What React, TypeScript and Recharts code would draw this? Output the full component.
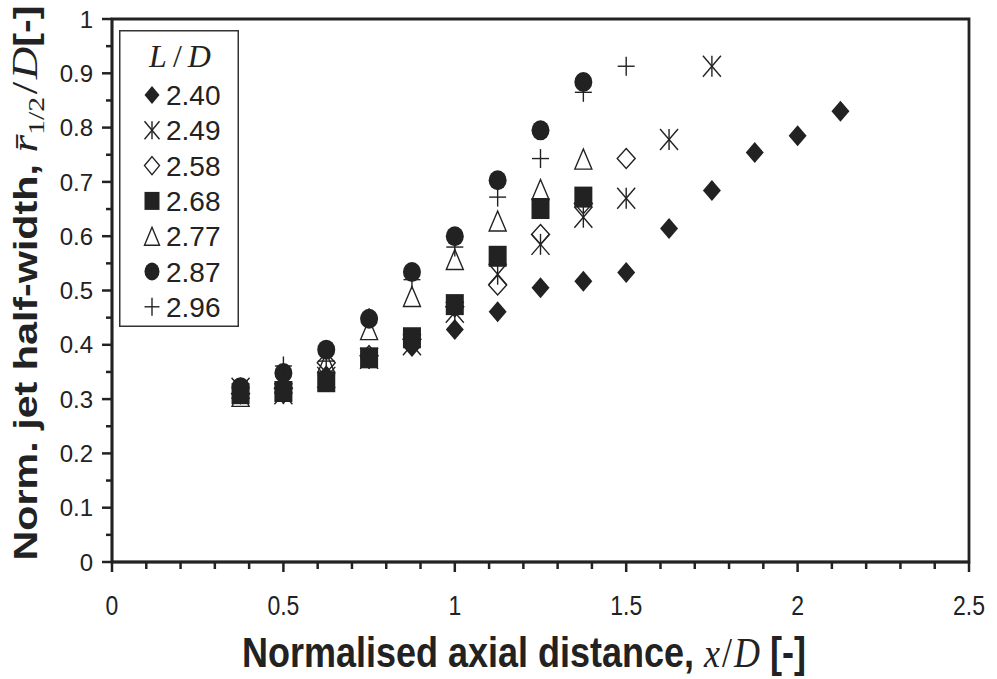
import React from 'react';
import { ScatterChart, Scatter, XAxis, YAxis, ReferenceArea, Legend } from 'recharts';

// axial positions x/D where the profiles were measured
const xPositions = [0.375, 0.5, 0.625, 0.75, 0.875, 1.0, 1.125, 1.25, 1.375, 1.5, 1.625, 1.75, 1.875, 2.0, 2.125];

// normalised half-width per L/D
const ld240 = [0.32, 0.31, 0.343, 0.375, 0.397, 0.428, 0.461, 0.505, 0.517, 0.533, 0.614, 0.684, 0.754, 0.785, 0.83];
const ld249 = [0.32, 0.31, 0.34, 0.375, 0.4, 0.46, 0.53, 0.585, 0.635, 0.67, 0.778, 0.913];
const ld258 = [0.31, 0.32, 0.367, 0.38, 0.41, 0.47, 0.51, 0.603, 0.66, 0.743];
const ld268 = [0.31, 0.314, 0.332, 0.376, 0.413, 0.474, 0.563, 0.651, 0.672];
const ld277 = [0.305, 0.33, 0.367, 0.428, 0.489, 0.557, 0.628, 0.686, 0.742];
const ld287 = [0.322, 0.348, 0.391, 0.448, 0.534, 0.6, 0.703, 0.795, 0.884];
const ld296 = [0.32, 0.361, 0.37, 0.45, 0.52, 0.58, 0.672, 0.743, 0.865, 0.913];

const seriesLabels = ['2.40', '2.49', '2.58', '2.68', '2.77', '2.87', '2.96'];

const xTicks = [0, 0.1, 0.2, 0.3, 0.4, 0.5, 0.6, 0.7, 0.8, 0.9, 1, 1.1, 1.2, 1.3, 1.4, 1.5, 1.6, 1.7, 1.8, 1.9, 2, 2.1, 2.2, 2.3, 2.4, 2.5];
const xMajor = [0, 0.5, 1, 1.5, 2, 2.5];
const xMajorLabels = ['0', '0.5', '1', '1.5', '2', '2.5'];
const yTicks = [0, 0.05, 0.1, 0.15, 0.2, 0.25, 0.3, 0.35, 0.4, 0.45, 0.5, 0.55, 0.6, 0.65, 0.7, 0.75, 0.8, 0.85, 0.9, 0.95, 1];
const yMajor = [0, 0.1, 0.2, 0.3, 0.4, 0.5, 0.6, 0.7, 0.8, 0.9, 1];
const yMajorLabels = ['0', '0.1', '0.2', '0.3', '0.4', '0.5', '0.6', '0.7', '0.8', '0.9', '1'];

const INK = '#222';
const SANS = 'Arial, "Liberation Sans", Helvetica, sans-serif';
const SERIF = '"Liberation Serif", "Times New Roman", serif';

const toPoints = (vals: number[]) => vals.map((y, i) => ({ x: xPositions[i], y }));

// ---- marker shapes (w = half width, h = half height) ----
type Mk = { cx: number; cy: number; w?: number; h?: number };

const FilledDiamond = ({ cx, cy, w = 9, h = 10.5 }: Mk) => (
  <polygon points={`${cx},${cy - h} ${cx + w},${cy} ${cx},${cy + h} ${cx - w},${cy}`} fill={INK} />
);
const Asterisk = ({ cx, cy, w = 9, h = 10.5 }: Mk) => (
  <g stroke={INK} strokeWidth={1.4}>
    <line x1={cx} y1={cy - h} x2={cx} y2={cy + h} />
    <line x1={cx - w} y1={cy - h} x2={cx + w} y2={cy + h} />
    <line x1={cx + w} y1={cy - h} x2={cx - w} y2={cy + h} />
  </g>
);
const OpenDiamond = ({ cx, cy, w = 9, h = 10 }: Mk) => (
  <polygon points={`${cx},${cy - h} ${cx + w},${cy} ${cx},${cy + h} ${cx - w},${cy}`} fill="none" stroke={INK} strokeWidth={1.4} />
);
const FilledSquare = ({ cx, cy, w = 9, h = 10.5 }: Mk) => (
  <rect x={cx - w} y={cy - h} width={2 * w} height={2 * h} fill={INK} />
);
const OpenTriangle = ({ cx, cy, w = 8.5, h = 10 }: Mk) => (
  <polygon points={`${cx},${cy - h} ${cx + w},${cy + h} ${cx - w},${cy + h}`} fill="none" stroke={INK} strokeWidth={1.4} />
);
const FilledCircle = ({ cx, cy, w = 9, h = 10 }: Mk) => <ellipse cx={cx} cy={cy} rx={w} ry={h} fill={INK} />;
const Plus = ({ cx, cy, w = 8.5, h = 9.5 }: Mk) => (
  <g stroke={INK} strokeWidth={1.4}>
    <line x1={cx} y1={cy - h} x2={cx} y2={cy + h} />
    <line x1={cx - w} y1={cy} x2={cx + w} y2={cy} />
  </g>
);

const markers = [FilledDiamond, Asterisk, OpenDiamond, FilledSquare, OpenTriangle, FilledCircle, Plus];
const seriesData = [ld240, ld249, ld258, ld268, ld277, ld287, ld296];

const near = (a: number, b: number) => Math.abs(a - b) < 1e-6;

const XTick = (props: any) => {
  const { x, y, payload } = props;
  const idx = xMajor.findIndex((m) => near(m, payload.value));
  const major = idx >= 0;
  return (
    <g>
      <line x1={x} y1={y} x2={x} y2={y + (major ? 10 : 7)} stroke={INK} strokeWidth={2.5} />
      {major && (
        <text
          transform={`translate(${x},${y + 53}) scale(1,1.2)`}
          textAnchor="middle"
          fontSize={23}
          fontFamily={SANS}
          fill={INK}
        >
          {xMajorLabels[idx]}
        </text>
      )}
    </g>
  );
};

const YTick = (props: any) => {
  const { x, y, payload } = props;
  const idx = yMajor.findIndex((m) => near(m, payload.value));
  const major = idx >= 0;
  return (
    <g>
      <line x1={x} y1={y} x2={x - (major ? 10 : 6)} y2={y} stroke={INK} strokeWidth={2.5} />
      {major && (
        <text x={x - 19} y={y} dy="0.36em" textAnchor="end" fontSize={24} fontFamily={SANS} fill={INK}>
          {yMajorLabels[idx]}
        </text>
      )}
    </g>
  );
};

const XTitle = () => (
  <g transform="translate(524,667) scale(1,1.2)">
    <text textAnchor="middle" fontSize={36} fontFamily={SANS} fontWeight="bold" fill={INK}>
      <tspan>Normalised axial distance, </tspan>
      <tspan fontFamily={SERIF} fontStyle="italic" fontWeight="normal">x</tspan>
      <tspan fontFamily={SERIF} fontWeight="normal" dx={2}>/</tspan>
      <tspan fontFamily={SERIF} fontStyle="italic" fontWeight="normal" dx={2}>D</tspan>
      <tspan> [-]</tspan>
    </text>
  </g>
);

const YTitle = () => (
  <g transform="translate(37,283) rotate(-90) scale(1.25,1)">
    <text textAnchor="middle" fontSize={33} fontFamily={SANS} fontWeight="bold" fill={INK}>
      <tspan>Norm. jet half-width, </tspan>
      <tspan fontFamily={SERIF} fontStyle="italic" fontWeight="normal" fontSize={36}>{'r\u0304'}</tspan>
      <tspan fontFamily={SERIF} fontWeight="normal" fontSize={24} dy={7}>1/2</tspan>
      <tspan fontFamily={SERIF} fontWeight="normal" fontSize={36} dy={-7} dx={2}>/</tspan>
      <tspan fontFamily={SERIF} fontStyle="italic" fontWeight="normal" fontSize={36} dx={2}>D</tspan>
      <tspan>[-]</tspan>
    </text>
  </g>
);

const LegendBox = () => (
  <svg width={120} height={297} style={{ display: 'block' }}>
    <rect x={0.75} y={0.75} width={118.5} height={295.5} fill="#fff" stroke="#333" strokeWidth={1.5} />
    <text x={61} y={37} textAnchor="middle" fontSize={32} fontFamily={SERIF} fill={INK}>
      <tspan fontStyle="italic">L</tspan>
      <tspan dx={6}>/</tspan>
      <tspan dx={6} fontStyle="italic">D</tspan>
    </text>
    {seriesLabels.map((lab, i) => {
      const Mark = markers[i];
      const cy = 65 + i * 35.3;
      return (
        <g key={lab}>
          <Mark cx={33} cy={cy} w={7.5} h={9} />
          <text x={47} y={cy} dy="0.36em" fontSize={28} fontFamily={SANS} fill={INK}>
            {lab}
          </text>
        </g>
      );
    })}
  </svg>
);

export default function App() {
  return (
    <div style={{ position: 'absolute', left: 0, top: 0, width: 997, height: 679, background: '#fff' }}>
      <ScatterChart width={997} height={679} margin={{ top: 19, right: 28, bottom: 0, left: 0 }}>
        <XAxis
          type="number"
          dataKey="x"
          domain={[0, 2.5]}
          ticks={xTicks}
          interval={0}
          tickSize={0}
          tickMargin={0}
          tickLine={false}
          tick={<XTick />}
          axisLine={{ stroke: INK, strokeWidth: 2.5 }}
          height={117}
          label={() => <XTitle />}
        />
        <YAxis
          type="number"
          dataKey="y"
          domain={[0, 1]}
          ticks={yTicks}
          interval={0}
          tickSize={0}
          tickMargin={0}
          tickLine={false}
          tick={<YTick />}
          axisLine={{ stroke: INK, strokeWidth: 2.5 }}
          width={112}
          label={() => <YTitle />}
        />
        <ReferenceArea x1={0} x2={2.5} y1={0} y2={1} fill="none" stroke={INK} strokeWidth={2.8} />
        {seriesData.map((vals, i) => {
          const Mark = markers[i];
          return (
            <Scatter
              key={seriesLabels[i]}
              name={seriesLabels[i]}
              data={toPoints(vals)}
              isAnimationActive={false}
              shape={(p: any) => <Mark cx={p.cx} cy={p.cy} />}
            />
          );
        })}
        <Legend
          layout="horizontal"
          align="center"
          verticalAlign="middle"
          wrapperStyle={{ left: 119, top: 30, width: 120, height: 297 }}
          content={() => <LegendBox />}
        />
      </ScatterChart>
    </div>
  );
}
